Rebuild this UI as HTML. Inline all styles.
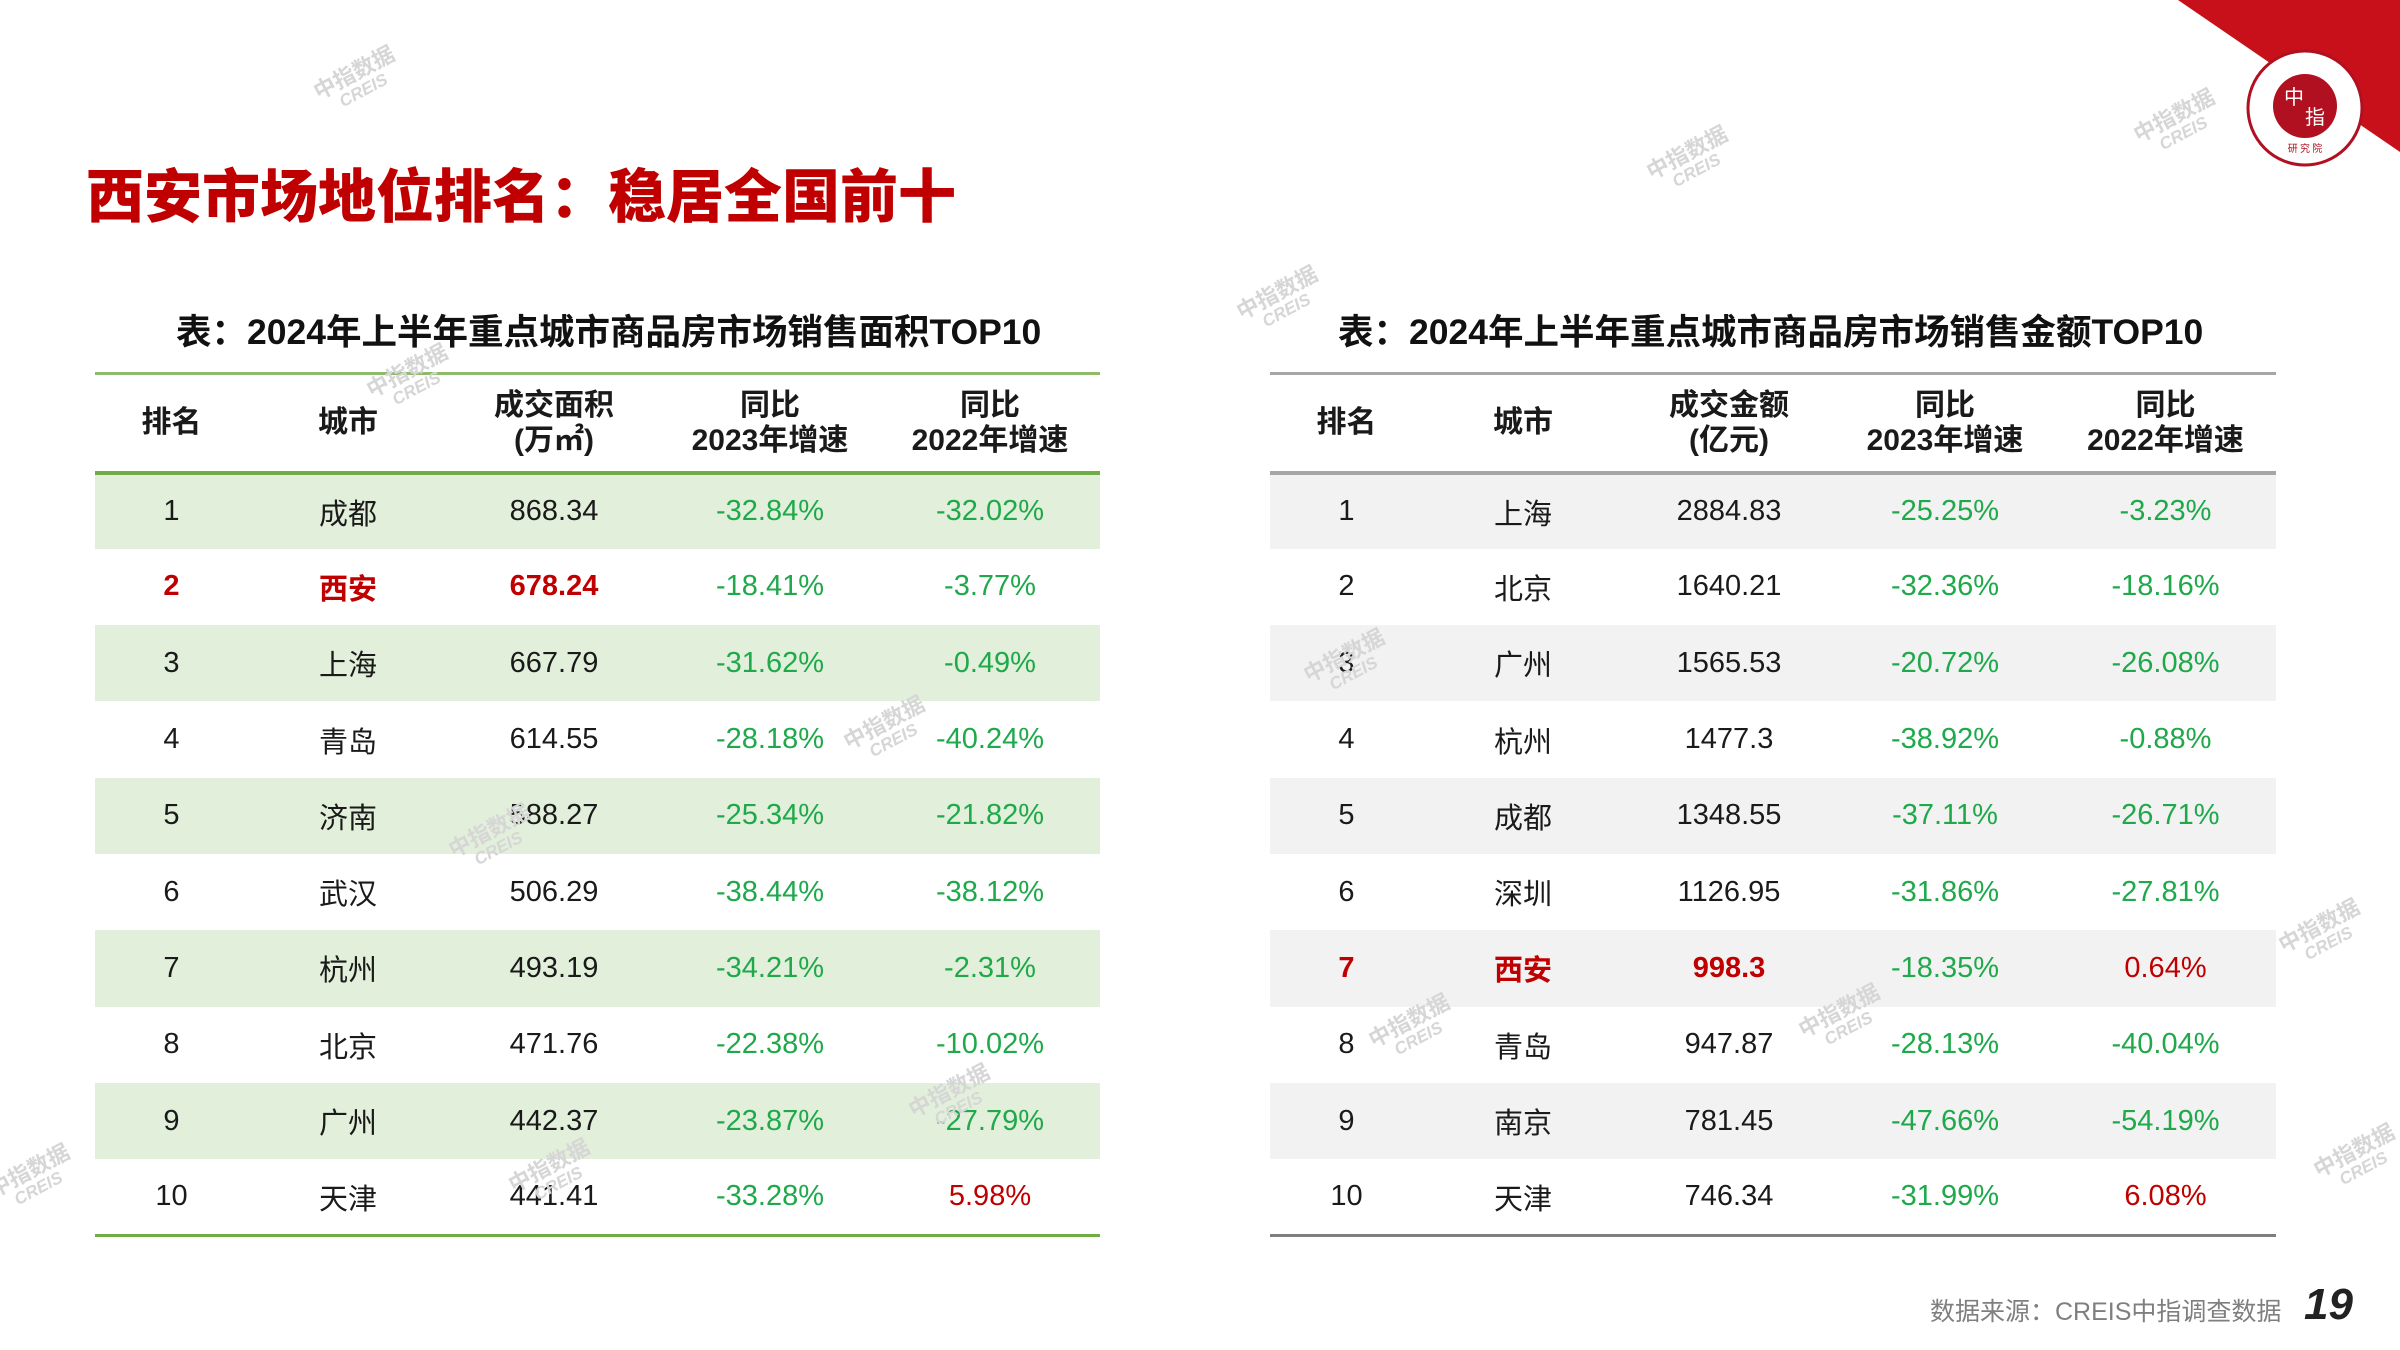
<!DOCTYPE html>
<html><head><meta charset="utf-8"><style>
*{margin:0;padding:0;box-sizing:border-box}
body{width:2400px;height:1350px;background:#fff;position:relative;overflow:hidden;font-family:"Liberation Sans","Noto Sans CJK SC",sans-serif;color:#1a1a1a}
.title{position:absolute;left:86px;top:150px;font-size:58px;font-weight:900;color:#c00000;letter-spacing:0px;white-space:nowrap}
.tt{position:absolute;top:304px;font-size:35.5px;font-weight:bold;white-space:nowrap;color:#111}
table{position:absolute;top:372px;border-collapse:collapse;table-layout:fixed}
td,th{text-align:center;height:76.3px;font-size:29px;padding:0;white-space:nowrap}
th{height:99px;font-size:30px;font-weight:bold;line-height:35px}
.L{left:95px;width:1005px;border-top:3px solid #8dbb6a;border-bottom:3px solid #70ad47}
.L thead tr{border-bottom:4px solid #70ad47}
.L tr.b{background:#e2efda}
.R{left:1270px;width:1006px;border-top:3px solid #a6a6a6;border-bottom:3px solid #7f7f7f}
.R thead tr{border-bottom:4px solid #a6a6a6}
.R tr.b{background:#f2f2f2}
.g{color:#1fa94b}.r{color:#c00000}
tr.x td{color:#c00000;font-weight:bold}
.wm{position:absolute;color:#d6d6d6;font-size:22px;font-weight:bold;transform:rotate(-28deg);line-height:20px;text-align:center;white-space:nowrap}
.wm span{display:block;font-size:17px;font-style:italic}
.foot{position:absolute;left:1930px;top:1292px;font-size:25px;color:#7f7f7f;white-space:nowrap}
.pg{position:absolute;left:2304px;top:1280px;font-size:44px;font-weight:bold;font-style:italic;color:#222}
</style></head><body>
<svg style="position:absolute;left:0;top:0" width="2400" height="1350">
<polygon points="2178,0 2400,0 2400,152" fill="#c8101a"/>
<circle cx="2305" cy="108" r="57" fill="#fff" stroke="#b01020" stroke-width="3"/>
<circle cx="2305" cy="106" r="32" fill="#b01020"/>
<text x="2294" y="104" font-size="20" fill="#fff" font-family="Noto Sans CJK SC" text-anchor="middle">中</text>
<text x="2315" y="124" font-size="20" fill="#fff" font-family="Noto Sans CJK SC" text-anchor="middle">指</text>
<text x="2305" y="152" font-size="10" fill="#b01020" font-family="Noto Sans CJK SC" text-anchor="middle">研 究 院</text>
</svg>
<div class="title">西安市场地位排名：稳居全国前十</div>
<div class="tt" style="left:176px">表：2024年上半年重点城市商品房市场销售面积TOP10</div>
<div class="tt" style="left:1338px">表：2024年上半年重点城市商品房市场销售金额TOP10</div>
<table class="L">
<colgroup><col style="width:153px"><col style="width:200px"><col style="width:212px"><col style="width:220px"><col style="width:220px"></colgroup>
<thead><tr><th>排名</th><th>城市</th><th>成交面积<br>(万㎡)</th><th>同比<br>2023年增速</th><th>同比<br>2022年增速</th></tr></thead>
<tbody>
<tr class="b"><td>1</td><td>成都</td><td>868.34</td><td class="g">-32.84%</td><td class="g">-32.02%</td></tr>
<tr class="x"><td>2</td><td>西安</td><td>678.24</td><td style="color:#1fa94b;font-weight:normal">-18.41%</td><td style="color:#1fa94b;font-weight:normal">-3.77%</td></tr>
<tr class="b"><td>3</td><td>上海</td><td>667.79</td><td class="g">-31.62%</td><td class="g">-0.49%</td></tr>
<tr><td>4</td><td>青岛</td><td>614.55</td><td class="g">-28.18%</td><td class="g">-40.24%</td></tr>
<tr class="b"><td>5</td><td>济南</td><td>588.27</td><td class="g">-25.34%</td><td class="g">-21.82%</td></tr>
<tr><td>6</td><td>武汉</td><td>506.29</td><td class="g">-38.44%</td><td class="g">-38.12%</td></tr>
<tr class="b"><td>7</td><td>杭州</td><td>493.19</td><td class="g">-34.21%</td><td class="g">-2.31%</td></tr>
<tr><td>8</td><td>北京</td><td>471.76</td><td class="g">-22.38%</td><td class="g">-10.02%</td></tr>
<tr class="b"><td>9</td><td>广州</td><td>442.37</td><td class="g">-23.87%</td><td class="g">-27.79%</td></tr>
<tr><td>10</td><td>天津</td><td>441.41</td><td class="g">-33.28%</td><td class="r">5.98%</td></tr>
</tbody></table>
<table class="R">
<colgroup><col style="width:153px"><col style="width:200px"><col style="width:212px"><col style="width:220px"><col style="width:221px"></colgroup>
<thead><tr><th>排名</th><th>城市</th><th>成交金额<br>(亿元)</th><th>同比<br>2023年增速</th><th>同比<br>2022年增速</th></tr></thead>
<tbody>
<tr class="b"><td>1</td><td>上海</td><td>2884.83</td><td class="g">-25.25%</td><td class="g">-3.23%</td></tr>
<tr><td>2</td><td>北京</td><td>1640.21</td><td class="g">-32.36%</td><td class="g">-18.16%</td></tr>
<tr class="b"><td>3</td><td>广州</td><td>1565.53</td><td class="g">-20.72%</td><td class="g">-26.08%</td></tr>
<tr><td>4</td><td>杭州</td><td>1477.3</td><td class="g">-38.92%</td><td class="g">-0.88%</td></tr>
<tr class="b"><td>5</td><td>成都</td><td>1348.55</td><td class="g">-37.11%</td><td class="g">-26.71%</td></tr>
<tr><td>6</td><td>深圳</td><td>1126.95</td><td class="g">-31.86%</td><td class="g">-27.81%</td></tr>
<tr class="b x"><td>7</td><td>西安</td><td>998.3</td><td style="color:#1fa94b;font-weight:normal">-18.35%</td><td style="font-weight:normal">0.64%</td></tr>
<tr><td>8</td><td>青岛</td><td>947.87</td><td class="g">-28.13%</td><td class="g">-40.04%</td></tr>
<tr class="b"><td>9</td><td>南京</td><td>781.45</td><td class="g">-47.66%</td><td class="g">-54.19%</td></tr>
<tr><td>10</td><td>天津</td><td>746.34</td><td class="g">-31.99%</td><td class="r">6.08%</td></tr>
</tbody></table>
<div class="wm" style="left:315px;top:62px">中指数据<span>CREIS</span></div>
<div class="wm" style="left:1648px;top:142px">中指数据<span>CREIS</span></div>
<div class="wm" style="left:2135px;top:105px">中指数据<span>CREIS</span></div>
<div class="wm" style="left:1238px;top:282px">中指数据<span>CREIS</span></div>
<div class="wm" style="left:368px;top:360px">中指数据<span>CREIS</span></div>
<div class="wm" style="left:845px;top:712px">中指数据<span>CREIS</span></div>
<div class="wm" style="left:450px;top:820px">中指数据<span>CREIS</span></div>
<div class="wm" style="left:1305px;top:645px">中指数据<span>CREIS</span></div>
<div class="wm" style="left:1370px;top:1010px">中指数据<span>CREIS</span></div>
<div class="wm" style="left:1800px;top:1000px">中指数据<span>CREIS</span></div>
<div class="wm" style="left:910px;top:1080px">中指数据<span>CREIS</span></div>
<div class="wm" style="left:510px;top:1155px">中指数据<span>CREIS</span></div>
<div class="wm" style="left:2280px;top:915px">中指数据<span>CREIS</span></div>
<div class="wm" style="left:2315px;top:1140px">中指数据<span>CREIS</span></div>
<div class="wm" style="left:-10px;top:1160px">中指数据<span>CREIS</span></div>
<div class="foot">数据来源：CREIS中指调查数据</div>
<div class="pg">19</div>
</body></html>
